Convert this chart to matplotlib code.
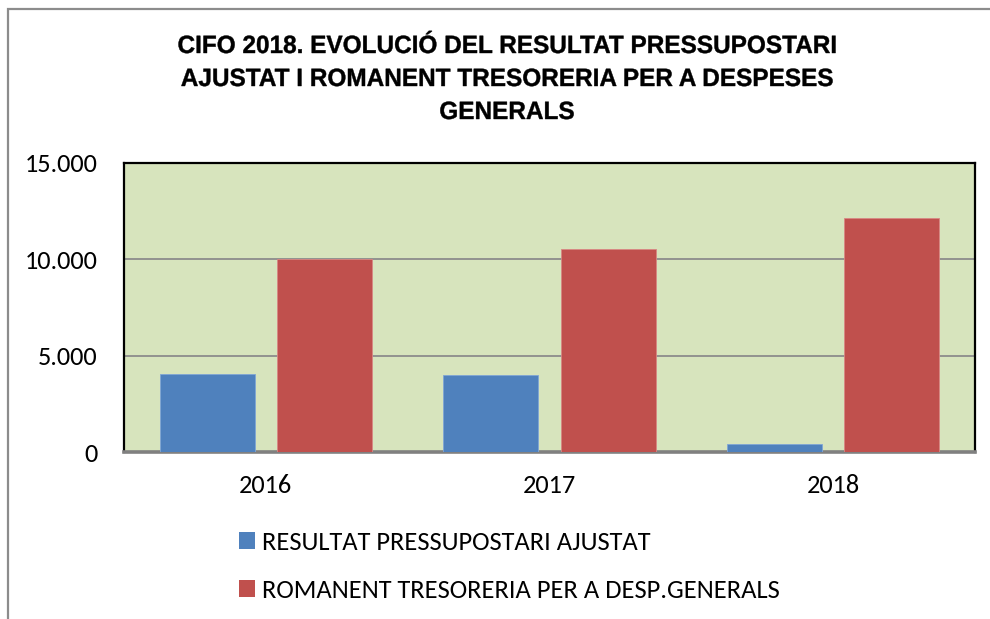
import numpy as np
import matplotlib
matplotlib.use("Agg")
import matplotlib.pyplot as plt
from matplotlib.patches import Rectangle, Patch, PathPatch
from matplotlib.textpath import TextPath
from matplotlib.font_manager import FontProperties
from matplotlib.transforms import Affine2D, IdentityTransform

years = ["2016", "2017", "2018"]
resultat = [4050, 4010, 420]
romanent = [10000, 10520, 12130]
series_names = ["RESULTAT PRESSUPOSTARI AJUSTAT", "ROMANENT TRESORERIA PER A DESP.GENERALS"]
title_lines = ["CIFO 2018. EVOLUCIÓ DEL RESULTAT PRESSUPOSTARI",
               "AJUSTAT I ROMANENT TRESORERIA PER A DESPESES",
               "GENERALS"]

BLUE, RED, BG = "#4F81BD", "#C0504D", "#D7E4BD"
LBL_FONT = ["Carlito", "Lato", "DejaVu Sans"]

W, H = 990, 619
fig = plt.figure(figsize=(W/100, H/100), dpi=100)
ax = fig.add_axes([124/W, 1-452/H, (975-124)/W, (452-163)/H])

# outer chart border (runs off right/bottom edge)
fig.patches.append(Rectangle((8/W, -0.2), 1.2, 1.2-9/H, transform=fig.transFigure,
                             fill=False, edgecolor="#8c8c8c", lw=1.6, clip_on=False))

x = np.arange(len(years))
w, off = 0.335, 0.207
ax.bar(x-off, resultat, w, color=BLUE, edgecolor="#7fa6d6", lw=0.6, zorder=3)
ax.bar(x+off, romanent, w, color=RED, edgecolor="#d98683", lw=0.6, zorder=3)

ax.set_facecolor(BG)
ax.set_xlim(-0.5, 2.5)
ax.set_ylim(0, 15000)
yt = [0, 5000, 10000, 15000]
ax.set_yticks(yt)
ax.set_yticklabels([f"{v:,}".replace(",", ".") for v in yt], fontsize=19, family=LBL_FONT)
ax.set_xticks(x)
ax.set_xticklabels(years, fontsize=19, family=LBL_FONT)
ax.tick_params(length=0)
ax.tick_params(axis="y", pad=19)
ax.tick_params(axis="x", pad=16)
ax.yaxis.grid(True, color="#8c8c8c", lw=1.3, zorder=1)
ax.set_axisbelow(True)
for s in ["top", "left", "right"]:
    ax.spines[s].set_color("black")
    ax.spines[s].set_linewidth(1.6)
ax.spines["bottom"].set_color("#808080")
ax.spines["bottom"].set_linewidth(2.6)

# title: condensed bold (narrow font not installed -> squeeze glyph paths)
fp = FontProperties(family="Liberation Sans", weight="bold")
size_px = 25
paths = [TextPath((0, 0), t, size=size_px, prop=fp) for t in title_lines]
w0 = paths[0].get_extents().width
sx = (835-178) / w0
baselines = [53, 86, 119]
for p, b in zip(paths, baselines):
    ext = p.get_extents()
    tr = Affine2D().translate(-(ext.x0+ext.width/2), 0).scale(sx, 1).translate(507, H-b)
    fig.patches.append(PathPatch(p, transform=tr + IdentityTransform(), color="black", lw=0.3))

handles = [Patch(facecolor=BLUE), Patch(facecolor=RED)]
fig.legend(handles, series_names, loc="upper left", bbox_to_anchor=(239/W, 1-531/H),
           frameon=False, handlelength=0.6, handleheight=0.6,
           handletextpad=0.27, labelspacing=0.95, borderaxespad=0, borderpad=0,
           prop={"family": LBL_FONT, "size": 19.1})

fig.savefig("out.png", dpi=100)
